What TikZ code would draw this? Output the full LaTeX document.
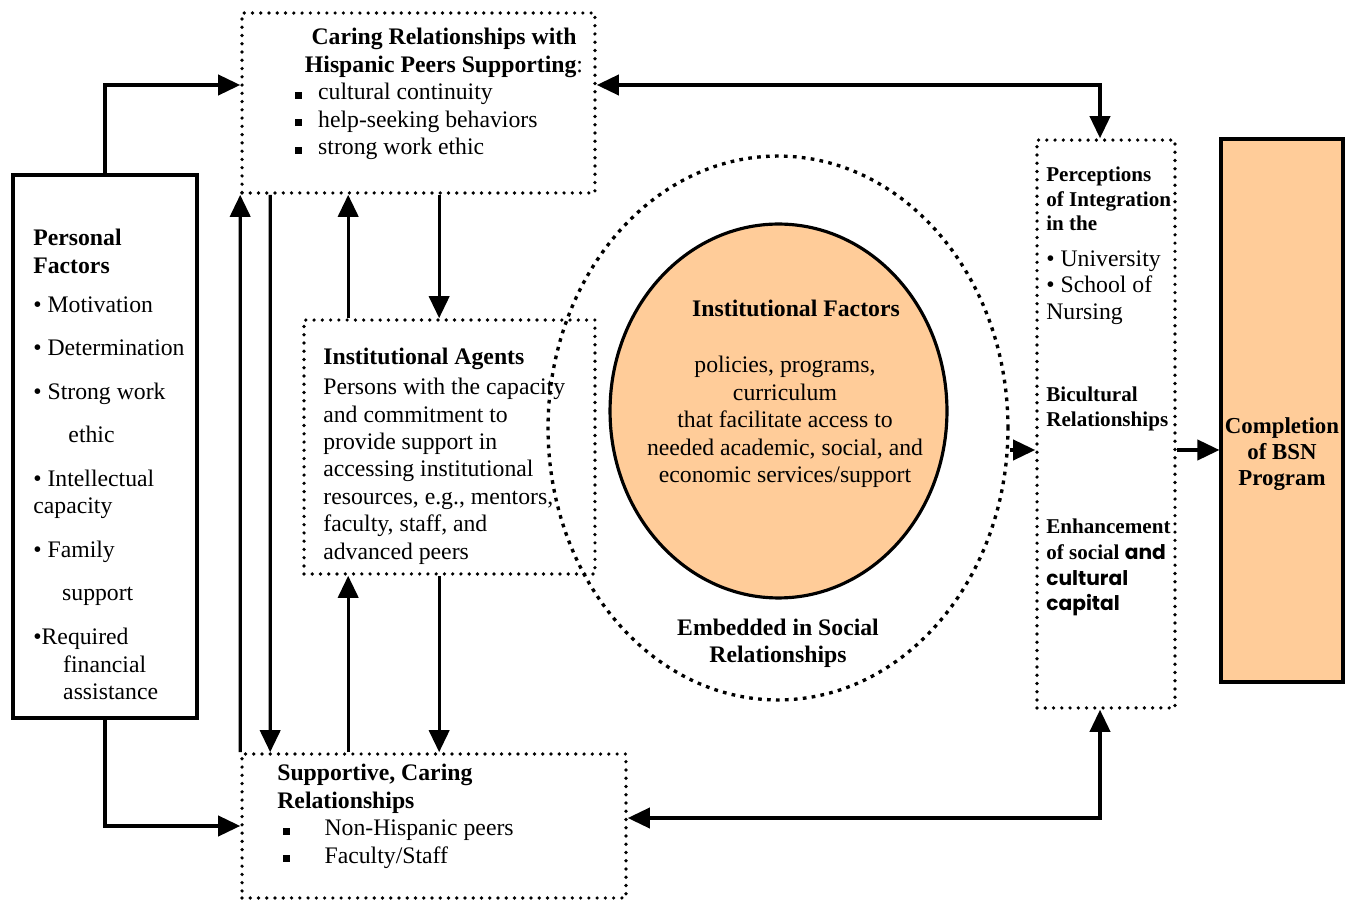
\documentclass[tikz,border=0pt]{standalone}
\usepackage{fontspec}
\setmainfont{Liberation Serif}
\newfontfamily\gothic{Poppins}
\usetikzlibrary{arrows.meta,shapes.geometric,positioning}

\definecolor{peach}{RGB}{255,204,153}
% small filled square used as list bullet
\newcommand\sqbul{\rule[0.1ex]{4pt}{4pt}}

\tikzset{
  dotbox/.style={draw, line width=2.1pt, dash pattern=on 0pt off 4.7pt, line cap=round, inner sep=0pt},
  dotring/.style={draw, line width=1.9pt, dash pattern=on 2.1pt off 3pt, line cap=butt, inner sep=0pt},
  solidbox/.style={draw, line width=1.8pt, inner sep=0pt},
  arr/.style={line width=1.8pt, -{Triangle[length=12.5pt,width=11.5pt]}},
  dblarr/.style={line width=1.8pt, {Triangle[length=12.5pt,width=11.5pt]}-{Triangle[length=12.5pt,width=11.5pt]}},
  txt/.style={inner sep=0pt, align=left, font=\fontsize{13.5}{15.6}\selectfont},
  small bold/.style={inner sep=0pt, align=left, font=\fontsize{12}{13.9}\selectfont\bfseries},
}

\begin{document}
\begin{tikzpicture}[x=0.02cm,y=-0.02cm]
  \useasboundingbox (0,0) rectangle (1345,901);

  % boxes
  \node[dotbox, minimum width=7.06cm, minimum height=3.6cm] (caring) at (418.5,103) {};
  \node[solidbox, minimum width=3.68cm, minimum height=10.86cm] (personal) at (105,446.5) {};
  \node[dotbox, minimum width=5.82cm, minimum height=5.08cm] (agents) at (449.5,447) {};
  \node[dotbox, minimum width=7.68cm, minimum height=2.88cm] (supp) at (434,826) {};
  \node[dotring, ellipse, minimum width=9.2cm, minimum height=10.88cm] (ring) at (778,428) {};
  \node[solidbox, ellipse, fill=peach, minimum width=6.74cm, minimum height=7.48cm] (inst) at (778.5,411) {};
  \node[dotbox, minimum width=2.76cm, minimum height=11.36cm] (percep) at (1106,424) {};
  \node[solidbox, fill=peach, minimum width=2.44cm, minimum height=10.86cm] (bsn) at (1282,410.5) {};

  % texts
  \node[txt, align=center, font=\fontsize{13.5}{15.6}\selectfont\bfseries] (caring-head) at (444,53)
    {Caring Relationships with\\ Hispanic Peers Supporting{\mdseries:}};
  \node[txt, anchor=north west] (caring-list) at (295,83)
    {\sqbul\hspace{9pt}cultural continuity\\ \sqbul\hspace{9pt}help-seeking behaviors\\ \sqbul\hspace{9pt}strong work ethic};

  \node[txt, anchor=north west] (personal-txt) at (33,229)
    {\textbf{Personal}\\ \textbf{Factors}\\[6.5pt]
     • Motivation\\[9.3pt]
     • Determination\\[9.3pt]
     • Strong work\\[9pt]
     \hspace*{20pt}ethic\\[9.3pt]
     • Intellectual\\ capacity\\[9.3pt]
     • Family\\[9pt]
     \hspace*{16.4pt}support\\[9.3pt]
     •Required\\ \hspace*{17pt}financial\\ \hspace*{17pt}assistance};

  \node[txt, anchor=north west] (agents-txt) at (323,348)
    {\textbf{Institutional Agents}\\[1.4pt]
     Persons with the capacity\\ and commitment to\\ provide support in\\
     accessing institutional\\ resources, e.g., mentors,\\ faculty, staff, and\\ advanced peers};

  \node[txt, font=\fontsize{13.5}{15.6}\selectfont\bfseries] (inst-head) at (796,308) {Institutional Factors};
  \node[txt, align=center] (inst-txt) at (785,422)
    {policies, programs,\\ curriculum\\ that facilitate access to\\ needed academic, social, and\\ economic services/support};
  \node[txt, align=center, font=\fontsize{13.5}{15.6}\selectfont\bfseries] (ring-txt) at (778,643)
    {Embedded in Social\\ Relationships};

  \node[txt, anchor=north west] (supp-txt) at (277,764)
    {\textbf{Supportive, Caring}\\ \textbf{Relationships}\\
     \hspace*{3.4pt}\sqbul\hspace{19.5pt}Non-Hispanic peers\\
     \hspace*{3.4pt}\sqbul\hspace{19.5pt}Faculty/Staff};

  \node[small bold, anchor=north west] (percep-head) at (1046,167) {Perceptions\\ of Integration\\ in the};
  \node[txt, anchor=north west, font=\fontsize{13.5}{15.3}\selectfont] (percep-list) at (1046,250)
    {• University\\ • School of\\ Nursing};
  \node[small bold, anchor=north west] (bicult) at (1046,387) {Bicultural\\ Relationships};
  \node[small bold, anchor=north west, font=\fontsize{12}{14.6}\selectfont\bfseries] (enhance) at (1046,519)
    {Enhancement\\ of social {\gothic\fontsize{11.5}{14.6}\selectfont and}\\
     {\gothic\fontsize{11.5}{14.6}\selectfont cultural}\\ {\gothic\fontsize{11.5}{14.6}\selectfont capital}};

  \node[txt, align=center, font=\fontsize{13}{15}\selectfont\bfseries] (bsn-txt) at (1282,454)
    {Completion\\ of BSN\\ Program};

  % connectors
  \draw[arr] (personal.north) |- ([yshift=0.36cm]caring.west);
  \draw[arr] (personal.south) |- (supp.west);
  \draw[arr] (supp.north west) -- (caring.south west);
  \draw[arr] ([xshift=0.6cm]caring.south west) -- ([xshift=0.6cm]supp.north west);
  \draw[arr] ([xshift=0.92cm]agents.north west) -- ([xshift=0.92cm]agents.north west |- caring.south);
  \draw[arr] ([xshift=2.74cm]agents.north west |- caring.south) -- ([xshift=2.74cm]agents.north west);
  \draw[arr] ([xshift=0.92cm]agents.south west |- supp.north) -- ([xshift=0.92cm]agents.south west);
  \draw[arr] ([xshift=2.74cm]agents.south west) -- ([xshift=2.74cm]agents.south west |- supp.north);
  \draw[dblarr] ([yshift=0.36cm]caring.east) -| ([xshift=-0.12cm]percep.north);
  \draw[dblarr] ([yshift=0.16cm]supp.east) -| ([xshift=-0.12cm]percep.south);
  \draw[arr] ([yshift=-0.44cm]ring.east) -- ([yshift=-0.44cm]ring.east -| percep.west);
  \draw[arr] ([yshift=-0.52cm]percep.east) -- ([yshift=-0.52cm]percep.east -| bsn.west);
\end{tikzpicture}
\end{document}
